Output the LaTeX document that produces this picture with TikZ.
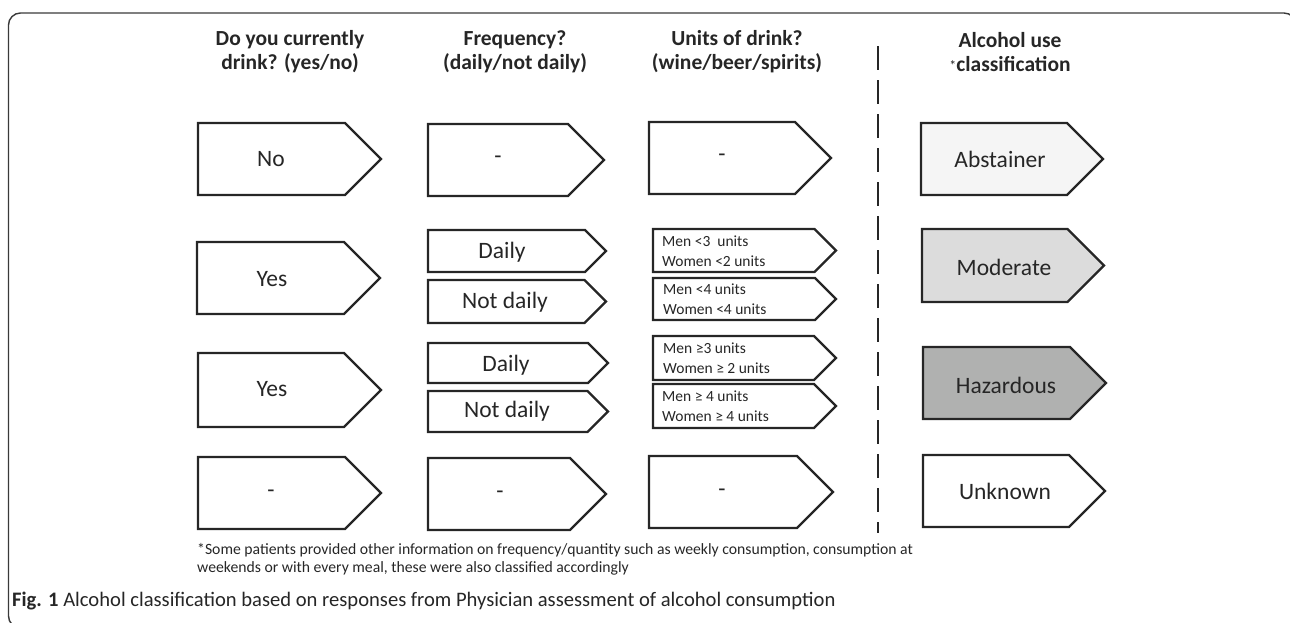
\documentclass[tikz,border=0pt]{standalone}
\usepackage{fontspec}
\setmainfont{Carlito}
\definecolor{ink}{HTML}{262626}
\definecolor{frame}{HTML}{3A3A3A}
\definecolor{fillA}{HTML}{F5F5F5}
\definecolor{fillM}{HTML}{DCDCDC}
\definecolor{fillH}{HTML}{B0B1B0}
\tikzset{
  boxline/.style={draw=ink, line width=2.4pt, line join=miter},
  boxtext/.style={font=\fontsize{23.5}{28}\selectfont, text=ink, inner sep=0pt},
  smalltext/.style={font=\fontsize{15.5}{19.5}\selectfont, text=ink, align=left, inner sep=0pt, anchor=west},
  head/.style={font=\bfseries\fontsize{21.5}{24}\selectfont, align=center, text=ink, inner sep=0pt},
  notetext/.style={font=\fontsize{15.7}{18}\selectfont, text=ink, align=left, inner sep=0pt, anchor=west},
  captext/.style={font=\fontsize{20.6}{22}\selectfont, text=ink, inner sep=0pt, anchor=west},
}
% x1, y1, xtip, y2, fill
\newcommand{\arrowshape}[5]{%
  \filldraw[boxline, fill=#5] (#1,#2) -- ({#3-(#4-#2)/2},#2) -- (#3,{(#2+#4)/2}) -- ({#3-(#4-#2)/2},#4) -- (#1,#4) -- cycle;}
\begin{document}
\begin{tikzpicture}[x=1pt,y=-1pt]
\useasboundingbox (0,0) rectangle (1290,622);
\begin{scope}
\clip (0,0) rectangle (1290,622);
\draw[frame, line width=1.4pt, rounded corners=12] (8.5,13) rectangle (1296,628);
\end{scope}

% headers
\node[head] (h1) at (290,52) {Do you currently\\drink? (yes/no)};
\node[head] (h2) at (515,52) {Frequency?\\(daily/not daily)};
\node[head] (h3) at (737,52) {Units of drink?\\(wine/beer/spirits)};
\node[head] (h4) at (1010,52) {Alcohol use\\{\normalfont\raisebox{1pt}{\fontsize{14}{14}\selectfont*}}classification};

% divider
\coordinate (dtop) at (878,46);
\coordinate (dbot) at (878,533);
\draw[ink, line width=2.8pt, dash pattern=on 24pt off 10pt] (dtop) -- (dbot);

% row 1
\arrowshape{198}{123}{381}{195}{white}
\node[boxtext] (r1c1) at (271,159) {No};
\arrowshape{428}{124}{604}{196}{white}
\node[boxtext] (r1c2) at (498,160) {-};
\arrowshape{649}{122}{831}{194}{white}
\node[boxtext] (r1c3) at (722,158) {-};
\arrowshape{921}{123}{1103}{195}{fillA}
\node[boxtext] (r1c4) at (1000,159) {Abstainer};

% row 2
\arrowshape{197}{242}{380}{314}{white}
\node[boxtext] (r2c1) at (272,279) {Yes};
\arrowshape{428}{230}{606}{272}{white}
\node[boxtext] (r2c2a) at (502,252) {Daily};
\arrowshape{428}{280}{606}{323}{white}
\node[boxtext] (r2c2b) at (505,302) {Not daily};
\arrowshape{653}{229}{836}{272}{white}
\node[smalltext] (r2c3a) at (662,251) {Men <3 \ units\\Women <2 units};
\arrowshape{653}{278}{836}{320}{white}
\node[smalltext] (r2c3b) at (663,299) {Men <4 units\\Women <4 units};
\arrowshape{922}{229}{1104}{302}{fillM}
\node[boxtext] (r2c4) at (1004,267) {Moderate};

% row 3
\arrowshape{198}{353}{381}{427}{white}
\node[boxtext] (r3c1) at (272,389) {Yes};
\arrowshape{428}{343}{608}{383}{white}
\node[boxtext] (r3c2a) at (506,365) {Daily};
\arrowshape{428}{391}{608}{432}{white}
\node[boxtext] (r3c2b) at (507,411) {Not daily};
\arrowshape{653}{336}{836}{380}{white}
\node[smalltext] (r3c3a) at (663,358) {Men ≥3 units\\Women ≥ 2 units};
\arrowshape{653}{384}{836}{428}{white}
\node[smalltext] (r3c3b) at (662,406) {Men ≥ 4 units\\Women ≥ 4 units};
\arrowshape{923}{347}{1106}{419}{fillH}
\node[boxtext] (r3c4) at (1006,385) {Hazardous};

% row 4
\arrowshape{198}{457}{381}{529}{white}
\node[boxtext] (r4c1) at (271,494) {-};
\arrowshape{428}{458}{606}{530}{white}
\node[boxtext] (r4c2) at (500,495) {-};
\arrowshape{649}{456}{833}{528}{white}
\node[boxtext] (r4c3) at (722,493) {-};
\arrowshape{923}{455}{1105}{527}{white}
\node[boxtext] (r4c4) at (1005,491) {Unknown};

% footnote and caption
\node[notetext] (fn) at (197,559) {*Some patients provided other information on frequency/quantity such as weekly consumption, consumption at\\weekends or with every meal, these were also classified accordingly};
\node[captext] (caption) at (12,601) {\textbf{Fig. 1} Alcohol classification based on responses from Physician assessment of alcohol consumption};
\end{tikzpicture}
\end{document}
